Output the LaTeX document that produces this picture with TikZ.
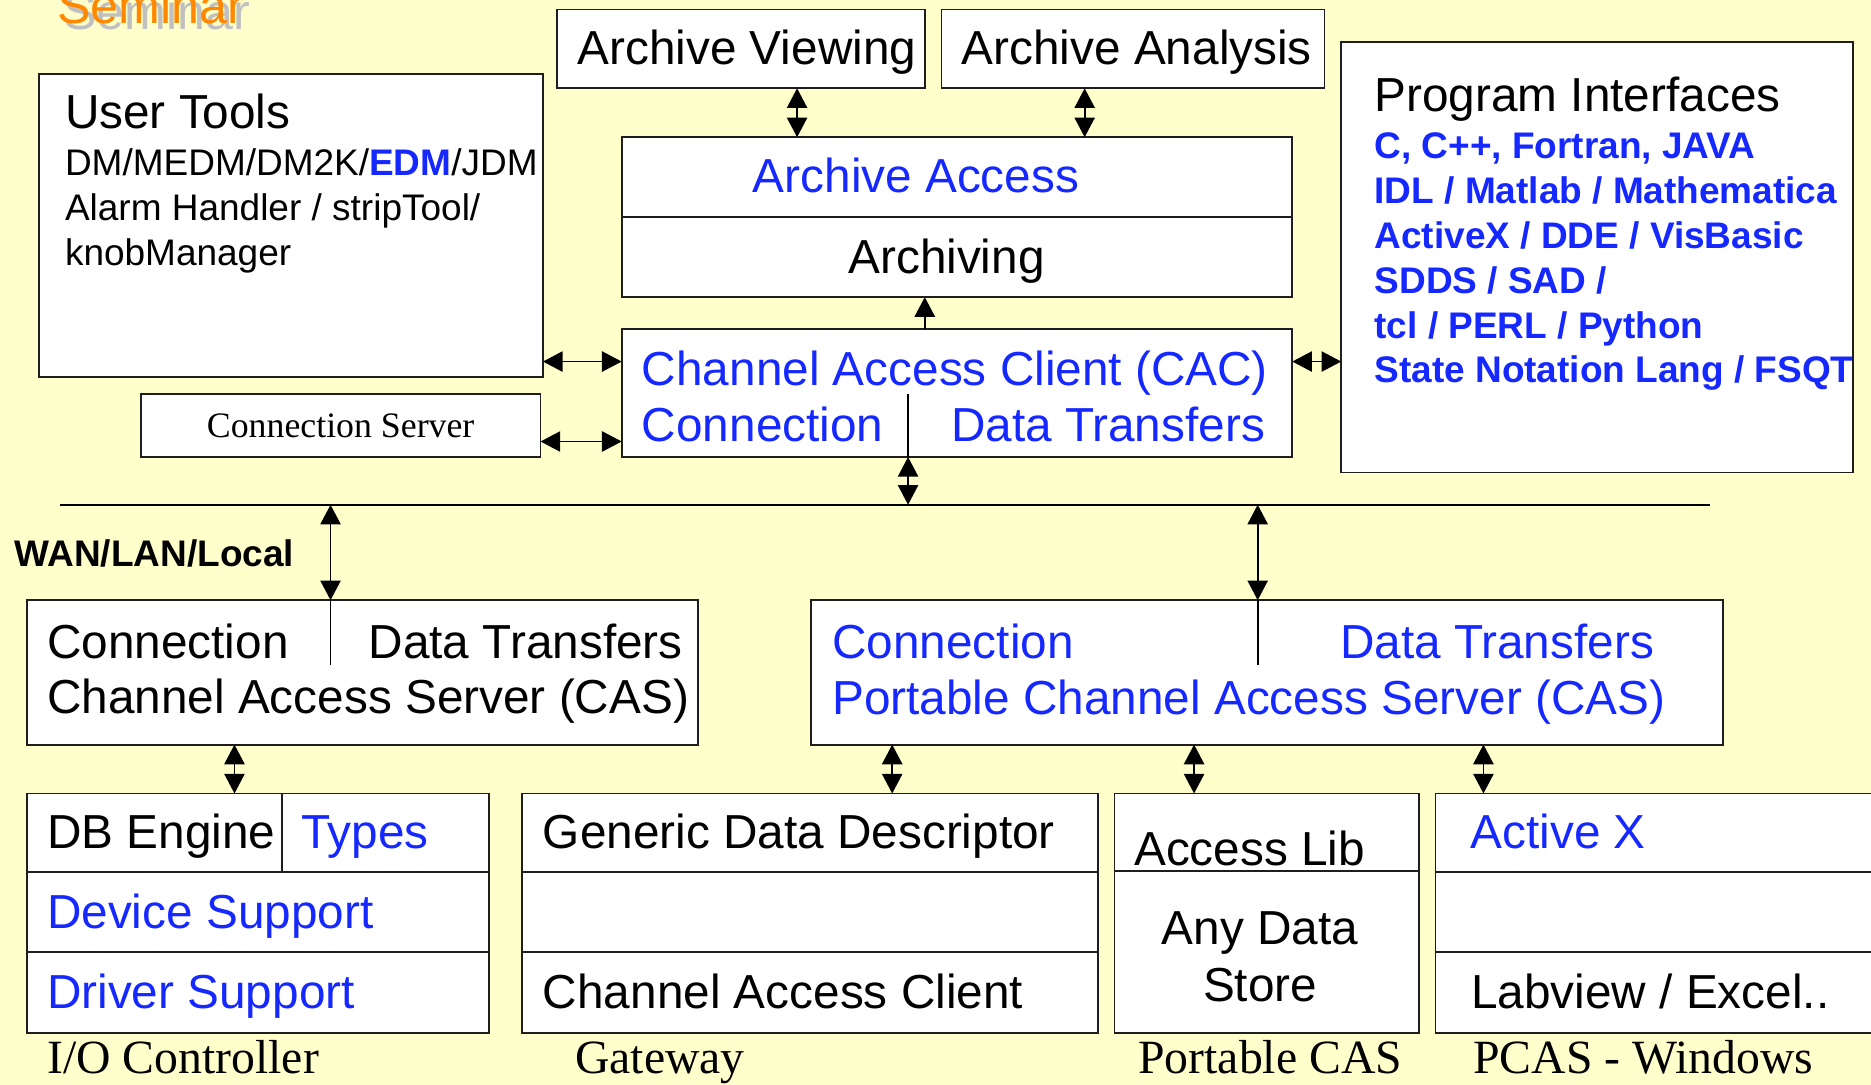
\documentclass[tikz,border=0pt]{standalone}
\usepackage{fontspec}
\setmainfont{Liberation Serif}
\newfontfamily\arialf{Liberation Sans}
\usetikzlibrary{arrows.meta}
\definecolor{bgyellow}{RGB}{255,255,204}
\definecolor{txtblue}{RGB}{20,40,255}
\definecolor{semorange}{RGB}{255,136,0}
\definecolor{semshadow}{RGB}{192,192,192}
\definecolor{boxline}{RGB}{30,30,30}
\tikzset{
 box/.style={rectangle, draw=boxline, line width=1.6pt, fill=white, inner sep=0pt, outer sep=0pt, anchor=north west},
 lbl/.style={anchor=base west, inner sep=0pt, outer sep=0pt, font=\arialf\fontsize{40}{48}\selectfont},
 lblc/.style={lbl, anchor=base},
 sm/.style={anchor=base west, inner sep=0pt, outer sep=0pt, font=\arialf\fontsize{31}{37}\selectfont},
 smb/.style={sm, font=\arialf\bfseries\fontsize{31}{37}\selectfont},
 ser/.style={anchor=base west, inner sep=0pt, outer sep=0pt, font=\fontsize{40}{48}\selectfont},
 sersm/.style={anchor=base, inner sep=0pt, outer sep=0pt, font=\fontsize{30}{36}\selectfont},
 blu/.style={text=txtblue},
 link/.style={line width=1.4pt, draw=black},
 dbl/.style={link, {Triangle[length=16.5pt,width=17pt]}-{Triangle[length=16.5pt,width=17pt]}},
 uni/.style={link, -{Triangle[length=16.5pt,width=17pt]}},
 divider/.style={line width=1.4pt, draw=black},
}
\begin{document}
\begin{tikzpicture}[x=1pt,y=-1pt]
\useasboundingbox (0,0) rectangle (1568,909);
\fill[bgyellow] (0,0) rectangle (1568,909);
\clip (0,0) rectangle (1568,909);

% title fragment
\node[lbl, font=\arialf\fontsize{42}{50}\selectfont, text=semshadow] (semsh) at (53,24.6) {Seminar};
\node[lbl, font=\arialf\fontsize{42}{50}\selectfont, text=semorange] (sem) at (48,19.6) {Seminar};

% column / row helper coordinates
\coordinate (cAV) at (668,0);
\coordinate (cAN) at (909,0);
\coordinate (cAR) at (775,0);
\coordinate (cCD) at (761,0);
\coordinate (cL) at (277,0);
\coordinate (cR) at (1054,0);
\coordinate (cIO) at (196.5,0);
\coordinate (cGW) at (747.7,0);
\coordinate (cPC) at (1000.7,0);
\coordinate (cWI) at (1243.2,0);
\coordinate (cDB) at (236,0);
\coordinate (rU) at (0,303);
\coordinate (rS) at (0,370);

% top boxes
\node[box, minimum width=308pt, minimum height=66pt] (av) at (467,8) {};
\node[box, minimum width=321pt, minimum height=66pt] (aan) at (789,8) {};
\node[lbl] (tav) at (484,54) {Archive Viewing};
\node[lbl] (taan) at (806,54) {Archive Analysis};

\node[box, minimum width=562pt, minimum height=67pt] (aacc) at (521,115) {};
\node[box, minimum width=562pt, minimum height=67pt] (archv) at (521,182) {};
\node[lbl, blu] (taacc) at (631,161.5) {Archive Access};
\node[lbl] (tarchv) at (711,229) {Archiving};

\node[box, minimum width=562pt, minimum height=107pt] (cac) at (521,276) {};
\node[lbl, blu] (tcac) at (538,323) {Channel Access Client (CAC)};
\node[lbl, blu] (tcacc) at (538,370) {Connection};
\node[lbl, blu] (tcacd) at (797,370) {Data Transfers};
\draw[divider] (cac.south -| cCD) -- ++(0,-53);

% user tools
\node[box, minimum width=422pt, minimum height=254pt] (ut) at (33,62) {};
\node[lbl] (tut) at (54.5,107.6) {User Tools};
\node[sm] (tut1) at (54.5,146.7) {DM/MEDM/DM2K/{\bfseries\color{txtblue}EDM}/JDM};
\node[sm] (tut2) at (54.5,184.4) {Alarm Handler / stripTool/};
\node[sm] (tut3) at (54.5,222.1) {knobManager};

\node[box, minimum width=335pt, minimum height=53pt] (cs) at (118,330) {};
\node[sersm] (tcs) at (285.5,367) {Connection Server};

% program interfaces
\node[box, minimum width=429pt, minimum height=361pt] (pi) at (1124,35) {};
\node[lbl] (tpi) at (1152,93.6) {Program Interfaces};
\node[smb, blu] (tpi1) at (1152,132.7) {C, C++, Fortran, JAVA};
\node[smb, blu] (tpi2) at (1152,170.4) {IDL / Matlab / Mathematica};
\node[smb, blu] (tpi3) at (1152,208.1) {ActiveX / DDE / VisBasic};
\node[smb, blu] (tpi4) at (1152,245.8) {SDDS / SAD /};
\node[smb, blu] (tpi5) at (1152,283.5) {tcl / PERL / Python};
\node[smb, blu] (tpi6) at (1152,320.7) {State Notation Lang / FSQT};

% network
\coordinate (netA) at (50,423);
\coordinate (netB) at (1433,423);
\draw[link] (netA) -- (netB);
\node[smb] (twan) at (12.3,474.8) {WAN/LAN/Local};

% servers
\node[box, minimum width=562pt, minimum height=121pt] (cas) at (23,503) {};
\node[lbl] (tcas1) at (39.5,551.5) {Connection};
\node[lbl] (tcas2) at (309,551.5) {Data Transfers};
\node[lbl] (tcas3) at (39.5,598) {Channel Access Server (CAS)};
\draw[divider] (cas.north -| cL) -- ++(0,54);

\node[box, minimum width=764pt, minimum height=121pt] (pcas) at (680,503) {};
\node[lbl, blu] (tpcas1) at (697.5,551.5) {Connection};
\node[lbl, blu] (tpcas2) at (1123,551.5) {Data Transfers};
\node[lbl, blu] (tpcas3) at (697.5,598.5) {Portable Channel Access Server (CAS)};
\draw[divider] (pcas.north -| cR) -- ++(0,54);

% I/O controller
\node[box, minimum width=387pt, minimum height=66pt] (ioc1) at (23,665) {};
\node[box, minimum width=387pt, minimum height=67pt] (ioc2) at (23,731) {};
\node[box, minimum width=387pt, minimum height=68pt] (ioc3) at (23,798) {};
\draw[line width=1.6pt, draw=boxline] (ioc1.north -| cDB) -- (ioc1.south -| cDB);
\node[lbl] (tioc1) at (39.5,711) {DB Engine};
\node[lbl, blu] (tioc1b) at (252.6,711) {Types};
\node[lbl, blu] (tioc2) at (39.5,778.5) {Device Support};
\node[lbl, blu] (tioc3) at (39.5,845.5) {Driver Support};

% gateway
\node[box, minimum width=482.4pt, minimum height=66pt] (gw1) at (437.6,665) {};
\node[box, minimum width=482.4pt, minimum height=67pt] (gw2) at (437.6,731) {};
\node[box, minimum width=482.4pt, minimum height=68pt] (gw3) at (437.6,798) {};
\node[lbl] (tgw1) at (455,711) {Generic Data Descriptor};
\node[lbl] (tgw3) at (455,845.5) {Channel Access Client};

% portable CAS
\node[box, minimum width=255.5pt, minimum height=65pt] (pc1) at (934,665) {};
\node[box, minimum width=255.5pt, minimum height=136pt] (pc2) at (934,730) {};
\node[lbl] (tpc1) at (950.5,725) {Access Lib};
\node[lblc] (tpc2) at (1056,791.5) {Any Data};
\node[lblc] (tpc3) at (1056,839.5) {Store};

% PCAS windows
\node[box, minimum width=420pt, minimum height=66pt] (win1) at (1203,665) {};
\node[box, minimum width=420pt, minimum height=67pt] (win2) at (1203,731) {};
\node[box, minimum width=420pt, minimum height=68pt] (win3) at (1203,798) {};
\node[lbl, blu] (twin1) at (1232.6,711) {Active X};
\node[lbl] (twin3) at (1233,845.5) {Labview / Excel..};

% bottom captions
\node[ser] (lioc) at (39.5,899.5) {I/O Controller};
\node[ser] (lgw) at (482,899.5) {Gateway};
\node[ser] (lpc) at (954,899.5) {Portable CAS};
\node[ser] (lwin) at (1234.6,899.5) {PCAS - Windows};

% connectors
\draw[dbl] (av.south -| cAV) -- (aacc.north -| cAV);
\draw[dbl] (aan.south -| cAN) -- (aacc.north -| cAN);
\draw[uni] (cac.north -| cAR) -- (archv.south -| cAR);
\draw[dbl] (ut.east |- rU) -- (cac.west |- rU);
\draw[dbl] (cs.east |- rS) -- (cac.west |- rS);
\draw[dbl] (cac.east |- rU) -- (pi.west |- rU);
\draw[dbl] (cac.south -| cCD) -- (netA -| cCD);
\draw[dbl] (netA -| cL) -- (cas.north -| cL);
\draw[dbl] (netA -| cR) -- (pcas.north -| cR);
\draw[dbl] (cas.south -| cIO) -- (ioc1.north -| cIO);
\draw[dbl] (pcas.south -| cGW) -- (gw1.north -| cGW);
\draw[dbl] (pcas.south -| cPC) -- (pc1.north -| cPC);
\draw[dbl] (pcas.south -| cWI) -- (win1.north -| cWI);
\end{tikzpicture}
\end{document}
